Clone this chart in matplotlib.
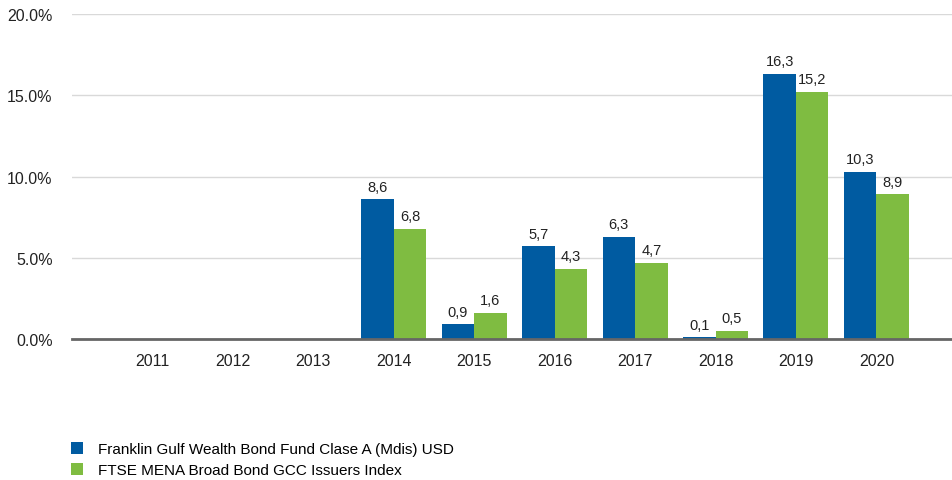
import numpy as np
import matplotlib.pyplot as plt

plt.rcParams['font.family'] = ['Liberation Sans', 'DejaVu Sans']

years = ['2011', '2012', '2013', '2014', '2015', '2016', '2017', '2018', '2019', '2020']
fund = [None, None, None, 8.6, 0.9, 5.7, 6.3, 0.1, 16.3, 10.3]
index = [None, None, None, 6.8, 1.6, 4.3, 4.7, 0.5, 15.2, 8.9]
fund_name = 'Franklin Gulf Wealth Bond Fund Clase A (Mdis) USD'
index_name = 'FTSE MENA Broad Bond GCC Issuers Index'

blue = '#005BA1'
green = '#7FBC41'

fig = plt.figure(figsize=(9.52, 4.81), dpi=100)
ax = fig.add_axes([0.0756, 0.2931, 0.9244, 0.6757])

x = np.arange(len(years))
w = 0.404

def draw(vals, off, color, label):
    xs = [xi + off for xi, v in zip(x, vals) if v is not None]
    vs = [v for v in vals if v is not None]
    bars = ax.bar(xs, vs, width=w, color=color, label=label, zorder=3)
    for b, v in zip(bars, vs):
        ax.text(b.get_x() + b.get_width() / 2, v + 0.35, ('%.1f' % v).replace('.', ','),
                ha='center', va='bottom', fontsize=10.5, color='#222222')

draw(fund, -w / 2, blue, fund_name)
draw(index, w / 2, green, index_name)

ax.set_xlim(-1.0, 9.94)
ax.set_ylim(0, 20)
ax.set_yticks([0, 5, 10, 15, 20])
ax.set_yticklabels(['0.0%', '5.0%', '10.0%', '15.0%', '20.0%'])
ax.set_xticks(x)
ax.set_xticklabels(years)
ax.tick_params(axis='both', length=0, labelsize=11.5, colors='#222222')
ax.tick_params(axis='y', pad=14)
ax.tick_params(axis='x', pad=10)
ax.grid(axis='y', color='#d9d9d9', linewidth=1, zorder=0)
for s in ['top', 'right', 'left']:
    ax.spines[s].set_visible(False)
ax.spines['bottom'].set_color('#666666')
ax.spines['bottom'].set_linewidth(2)
ax.spines['bottom'].set_zorder(4)

# legend below the plot, bottom left
leg = fig.legend(loc='upper left', bbox_to_anchor=(0.068, 0.092), frameon=False,
                 fontsize=11, handlelength=0.8, handleheight=0.8,
                 handletextpad=1.0, labelspacing=0.45, borderaxespad=0)

fig.savefig('out.png', dpi=100)
